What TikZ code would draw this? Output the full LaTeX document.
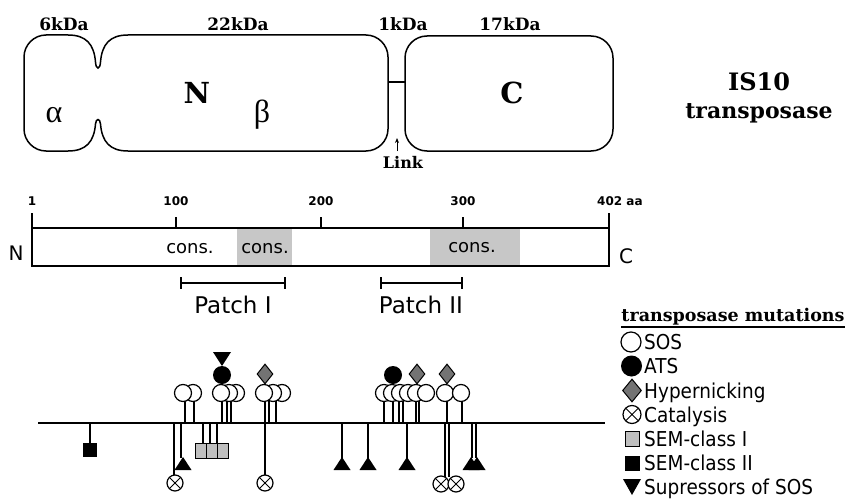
\documentclass[tikz,border=0pt]{standalone}
\usepackage{fontspec}
\setmainfont{DejaVu Serif}
\setsansfont{DejaVu Sans}
\newfontfamily\greekfont{Liberation Serif}
\usetikzlibrary{shapes.geometric,arrows.meta}
\definecolor{consgray}{gray}{0.78}
\definecolor{hypgray}{gray}{0.45}
\definecolor{semgray}{gray}{0.75}
\newcommand{\lgtxt}[1]{\scalebox{0.9}[1]{#1}}
\tikzset{
 domline/.style={line width=1.5pt},
 kda/.style={font=\bfseries\fontsize{17}{20}\selectfont, inner sep=0pt, anchor=base},
 big/.style={font=\bfseries\fontsize{29}{32}\selectfont, inner sep=0pt, anchor=base},
 greek/.style={font=\greekfont\fontsize{32}{36}\selectfont, inner sep=0pt, anchor=base},
 num/.style={font=\sffamily\bfseries\fontsize{12}{14}\selectfont, inner sep=0pt, anchor=base},
 cons/.style={font=\sffamily\fontsize{18}{20}\selectfont, inner sep=0pt, anchor=base},
 endlbl/.style={font=\sffamily\fontsize{20}{24}\selectfont, inner sep=0pt, anchor=base},
 patch/.style={font=\sffamily\fontsize{23}{26}\selectfont, inner sep=0pt, anchor=base},
 leg/.style={font=\sffamily\fontsize{20.5}{24}\selectfont, inner sep=0pt, anchor=base west},
 barline/.style={line width=1.3pt},
 stem/.style={line width=1.2pt},
 sos/.style={circle, draw, fill=white, line width=1.2pt, minimum size=17pt, inner sep=0pt},
 ats/.style={circle, fill=black, minimum size=18pt, inner sep=0pt},
 hyp/.style={diamond, draw, fill=hypgray, line width=1pt, minimum width=16pt, minimum height=20pt, inner sep=0pt},
 catx/.style={circle, draw, fill=white, line width=1.2pt, minimum size=16pt, inner sep=0pt,
   path picture={\draw[line width=1pt] (path picture bounding box.north west) -- (path picture bounding box.south east)
     (path picture bounding box.north east) -- (path picture bounding box.south west);}},
 semone/.style={rectangle, draw, fill=semgray, line width=0.9pt, minimum width=11pt, minimum height=15pt, inner sep=0pt},
 semtwo/.style={rectangle, fill=black, minimum width=14pt, minimum height=14pt, inner sep=0pt},
 uptri/.pic={\fill (0,0) -- (8.5,13) -- (-8.5,13) -- cycle;},
 downtri/.pic={\fill (-9,0) -- (9,0) -- (0,14) -- cycle;},
 legtri/.pic={\fill (-9,0) -- (9,0) -- (0,16) -- cycle;},
}
\begin{document}
\begin{tikzpicture}[x=1pt,y=-1pt]
\useasboundingbox (0,0) rectangle (851,503);

% ---------- domain outline ----------
\draw[domline] (24,57) .. controls (24,45) and (34,35) .. (46,35)
  -- (68,35)
  .. controls (86,35) and (94,44) .. (95.5,62)
  .. controls (96,70) and (100,70) .. (100.5,62)
  .. controls (102,44) and (110,35) .. (128,35)
  -- (366,35)
  .. controls (378,35) and (388,45) .. (388,57)
  -- (388,129)
  .. controls (388,141) and (378,151) .. (366,151)
  -- (128,151)
  .. controls (110,151) and (102,142) .. (100.5,124)
  .. controls (100,118) and (96,118) .. (95.5,124)
  .. controls (94,142) and (86,151) .. (68,151)
  -- (46,151)
  .. controls (34,151) and (24,141) .. (24,129)
  -- cycle;
\draw[domline, rounded corners=22pt] (405,36) rectangle (613,151);
\coordinate (linkL) at (388,82);
\coordinate (linkR) at (405,82);
\draw[domline] (linkL) -- (linkR);

\node[kda] (k6) at (64,31) {6kDa};
\node[kda] (k22) at (238,31) {22kDa};
\node[kda] (k1) at (403,31) {1kDa};
\node[kda] (k17) at (510,31) {17kDa};
\node[big] (nN) at (197,103) {N};
\node[big] (nC) at (512,103) {C};
\node[greek] (alpha) at (54,122) {α};
\node[greek] (beta) at (262,122) {β};
\node[kda, font=\bfseries\fontsize{16}{18}\selectfont] (link) at (403,168) {Link};
\coordinate (linktail) at (397,151);
\coordinate (linktip) at (397,138);
\draw[line width=0.9pt, -{Stealth[length=5pt,width=4pt]}] (linktail) -- (linktip);
\node[font=\bfseries\fontsize{24}{28}\selectfont, inner sep=0pt, anchor=base] (is10) at (759,90) {IS10};
\node[font=\bfseries\fontsize{22}{26}\selectfont, inner sep=0pt, anchor=base] (tpase) at (759,118) {transposase};

% ---------- sequence bar ----------
\fill[consgray] (237,228) rectangle (292,266);
\fill[consgray] (430,228) rectangle (520,266);
\draw[barline] (32,213) -- (32,266) -- (609,266) -- (609,213);
\draw[barline] (32,228) -- (609,228);
\foreach \x in {176,321,463} \draw[barline] (\x,217) -- (\x,228);
\node[num] (n1) at (32,205) {1};
\node[num] (n100) at (176,205) {100};
\node[num] (n200) at (321,205) {200};
\node[num] (n300) at (463,205) {300};
\node[num, anchor=base west] (n402) at (597,205) {402 aa};
\node[cons] (cons1) at (190,253) {cons.};
\node[cons] (cons2) at (265,253) {cons.};
\node[cons] (cons3) at (472,252) {cons.};
\node[endlbl] (barN) at (16,260) {N};
\node[endlbl] (barC) at (626,263) {C};

\draw[barline] (181,277) -- (181,289) (181,283) -- (285,283) (285,277) -- (285,289);
\draw[barline] (381,277) -- (381,289) (381,283) -- (462,283) (462,277) -- (462,289);
\node[patch] (p1) at (233,313) {Patch I};
\node[patch] (p2) at (421,313) {Patch II};

% ---------- mutation map ----------
\coordinate (bl) at (38,423);
\coordinate (br) at (605,423);
\draw[stem] (bl) -- (br);

% upper stems
\foreach \x in {185,194,222,227,231,265,269,276,384,393,399,403,416,419,447,462}
  \draw[stem] (\x,423) -- (\x,400);
% upper circles (drawing order gives the overlaps)
\foreach \x [count=\i] in {193,183,236,229,221,282,273,264,384,392,400,408,416,426,445,461}
  \node[sos] (u\i) at (\x,393) {};
\node[ats] (ats1) at (222,375) {};
\node[ats] (ats2) at (393,375) {};
\pic at (222,352) {downtri};
\node[hyp] (h1) at (265,374) {};
\node[hyp] (h2) at (417,374) {};
\node[hyp] (h3) at (447,374) {};

% lower stems
\draw[stem] (90,423) -- (90,443);
\draw[stem] (174,423) -- (174,475);
\draw[stem] (181,423) -- (181,458);
\foreach \x in {203,210,217} \draw[stem] (\x,423) -- (\x,443);
\draw[stem] (265,423) -- (265,475);
\foreach \x in {342,368,407} \draw[stem] (\x,423) -- (\x,458);
\draw[stem] (445,423) -- (445,477);
\draw[stem] (449,423) -- (449,477);
\draw[stem] (472,423) -- (472,458);
\draw[stem] (476,423) -- (476,458);

% lower symbols
\node[semtwo] (sII) at (90,450) {};
\node[catx] (x1) at (175,483) {};
\pic at (183,457) {uptri};
\node[semone] (sIa) at (200.5,450.5) {};
\node[semone] (sIb) at (211.5,450.5) {};
\node[semone] (sIc) at (222.5,450.5) {};
\node[catx] (x2) at (265,483) {};
\foreach \x in {342,368,407} \pic at (\x,457) {uptri};
\node[catx] (x3) at (441,484) {};
\node[catx] (x4) at (456,484) {};
\pic at (471,457) {uptri};
\pic at (477,457) {uptri};

% ---------- legend ----------
\node[font=\bfseries\fontsize{17.5}{20}\selectfont, inner sep=0pt, anchor=base] (ttl) at (733,321) {transposase mutations};
\draw[line width=1.2pt] ([yshift=-6pt]ttl.base west) -- ([yshift=-6pt]ttl.base east);

\node[sos, minimum size=20pt] (lsos) at (631,342) {};
\node[ats, minimum size=21pt] (lats) at (631.5,366) {};
\node[hyp, minimum width=19pt, minimum height=23pt] (lhyp) at (632,390.5) {};
\node[catx, minimum size=18pt] (lcat) at (632,414.5) {};
\node[semone, minimum width=14pt, minimum height=15pt] (lsem1) at (632.5,439) {};
\node[semtwo, minimum width=15pt, minimum height=15pt] (lsem2) at (632.5,463) {};
\pic at (632,479) {legtri};

\node[leg] (tsos) at (644,349.5) {\lgtxt{SOS}};
\node[leg] (tats) at (644,373.5) {\lgtxt{ATS}};
\node[leg] (thyp) at (644,398) {\lgtxt{Hypernicking}};
\node[leg] (tcat) at (644,422) {\lgtxt{Catalysis}};
\node[leg] (tsem1) at (644,446.5) {\lgtxt{SEM-class I}};
\node[leg] (tsem2) at (644,470.5) {\lgtxt{SEM-class II}};
\node[leg] (tsup) at (644,494.5) {\lgtxt{Supressors of SOS}};
\end{tikzpicture}
\end{document}
